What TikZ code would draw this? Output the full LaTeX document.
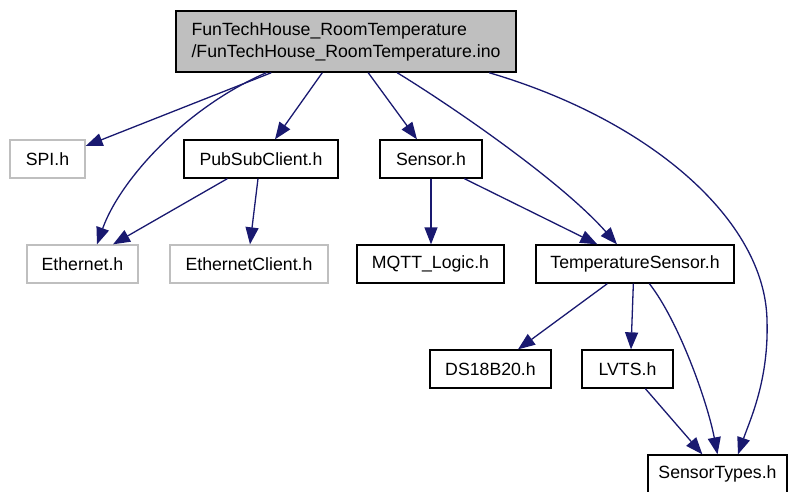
\documentclass[tikz,border=0pt]{standalone}
\usepackage{fontspec}
\setmainfont{Liberation Sans}
\usetikzlibrary{arrows.meta}
\definecolor{edgeblue}{HTML}{191970}
\definecolor{lightgrey}{HTML}{BFBFBF}
\begin{document}
\begin{tikzpicture}[x=1pt,y=-1pt,
  every node/.style={font=\fontsize{17.7}{22}\selectfont, inner sep=0pt},
  hdr/.style={draw=black, line width=1.3pt, minimum height=38pt},
  extbox/.style={draw=lightgrey, line width=1.3pt, minimum height=38pt},
  rootbox/.style={draw=black, fill=lightgrey, line width=1.5pt, align=left},
  dep/.style={draw=edgeblue, line width=1.3pt, -{Triangle[length=17pt,width=13pt]}}]
\useasboundingbox (0,0) rectangle (788,491);

% files
\node[rootbox, minimum width=340pt, minimum height=61pt] (root) at (346,41.5)
  {FunTechHouse\_RoomTemperature\\/FunTechHouse\_RoomTemperature.ino};
\node[extbox, minimum width=75pt]  (spi)    at (47.5,159) {SPI.h};
\node[hdr,    minimum width=154pt] (psc)    at (261,159)  {PubSubClient.h};
\node[hdr,    minimum width=102pt] (sensor) at (431,159)  {Sensor.h};
\node[extbox, minimum width=111pt] (eth)    at (82.5,264) {Ethernet.h};
\node[extbox, minimum width=158pt] (ethc)   at (249,264)  {EthernetClient.h};
\node[hdr,    minimum width=147pt] (mqtt)   at (430.5,264){MQTT\_Logic.h};
\node[hdr,    minimum width=198pt] (temps)  at (635,264)  {TemperatureSensor.h};
\node[hdr,    minimum width=121pt] (ds)     at (490.5,369){DS18B20.h};
\node[hdr,    minimum width=91pt]  (lvts)   at (627.5,369){LVTS.h};
\node[hdr,    minimum width=139pt] (stypes) at (717.5,474){SensorTypes.h};

% includes
\draw[dep] ([xshift=96pt]root.south west) -- ([yshift=13pt]spi.east);
\draw[dep] ([xshift=91pt]root.south west) .. controls (185,108) and (120,180) .. ([xshift=14.5pt]eth.north);
\draw[dep] ([xshift=147pt]root.south west) -- ([xshift=14pt]psc.north);
\draw[dep] ([xshift=193pt]root.south west) -- ([xshift=-14pt]sensor.north);
\draw[dep] ([xshift=222pt]root.south west) .. controls (450,105) and (560,180) .. ([xshift=-18pt]temps.north);
\draw[dep] ([xshift=314pt]root.south west) .. controls (650,120) and (765,220) .. (767,320)
  .. controls (769,380) and (750,420) .. ([xshift=20.5pt]stypes.north);

\draw[dep] ([xshift=44pt]psc.south west) -- ([xshift=30.5pt]eth.north);
\draw[dep] ([xshift=-3pt]psc.south) -- ([xshift=1pt]ethc.north);

\draw[dep] (sensor.south) -- (sensor.south |- mqtt.north);
\draw[dep] ([xshift=85pt]sensor.south west) -- ([xshift=62pt]temps.north west);

\draw[dep] ([xshift=72pt]temps.south west) -- ([xshift=27.5pt]ds.north);
\draw[dep] ([xshift=98pt]temps.south west) -- ([xshift=3.5pt]lvts.north);
\draw[dep] ([xshift=114pt]temps.south west) .. controls (678,320) and (707,400) .. (stypes.north);

\draw[dep] ([xshift=64pt]lvts.south west) -- ([xshift=55pt]stypes.north west);
\end{tikzpicture}
\end{document}
